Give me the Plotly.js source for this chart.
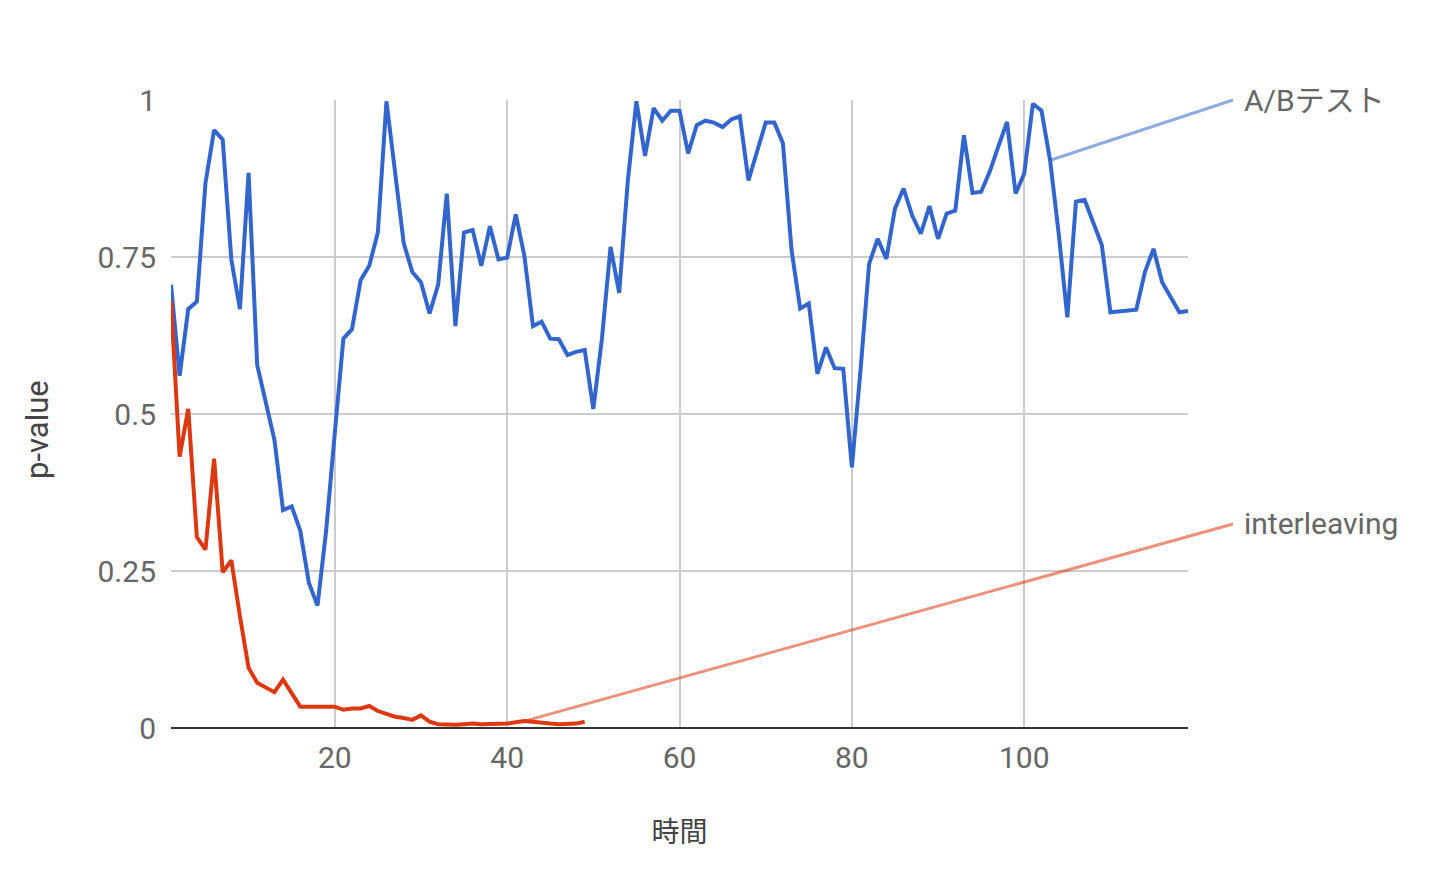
<!DOCTYPE html>
<html>
<head>
<meta charset="utf-8">
<script src="https://cdn.plot.ly/plotly-3.0.1.min.js"></script>
<style>html,body{margin:0;padding:0;background:#fff;}#chart{width:1440px;height:870px;}</style>
</head>
<body>
<div id="chart"></div>
<script>
const time = [1,2,3,4,5,6,7,8,9,10,11,12,13,14,15,16,17,18,19,20,
  21,22,23,24,25,26,27,28,29,30,31,32,33,34,35,36,37,38,39,40,
  41,42,43,44,45,46,47,48,49,50,51,52,53,54,55,56,57,58,59,60,
  61,62,63,64,65,66,67,68,69,70,71,72,73,74,75,76,77,78,79,80,
  81,82,83,84,85,86,87,88,89,90,91,92,93,94,95,96,97,98,99,100,
  101,102,103,104,105,106,107,108,109,110,111,112,113,114,115,116,117,118,119];

const abTest = [0.706,0.561,0.667,0.679,0.868,0.952,0.937,0.746,0.667,0.884,
  0.578,0.515,0.459,0.347,0.353,0.314,0.231,0.195,0.314,0.469,
  0.620,0.635,0.713,0.736,0.789,0.998,0.884,0.772,0.726,0.710,
  0.660,0.706,0.851,0.640,0.789,0.793,0.736,0.799,0.746,0.749,
  0.818,0.752,0.640,0.647,0.620,0.619,0.594,0.599,0.602,0.508,
  0.620,0.766,0.693,0.871,0.998,0.911,0.987,0.967,0.983,0.983,
  0.915,0.960,0.967,0.964,0.957,0.969,0.974,0.872,0.918,0.964,
  0.964,0.931,0.761,0.668,0.676,0.564,0.606,0.573,0.572,0.415,
  0.569,0.739,0.779,0.747,0.827,0.859,0.816,0.787,0.831,0.779,
  0.819,0.824,0.944,0.852,0.854,0.886,0.926,0.965,0.851,0.883,
  0.994,0.983,0.904,0.787,0.654,0.838,0.841,0.803,0.769,0.662,
  0.663,0.665,0.666,0.726,0.763,0.710,0.686,0.662,0.664];

const interleaving = [0.680,0.432,0.508,0.304,0.284,0.429,0.248,0.267,0.178,0.096,
  0.072,0.064,0.057,0.077,0.056,0.034,0.034,0.034,0.034,0.034,
  0.029,0.031,0.031,0.035,0.027,0.023,0.018,0.016,0.013,0.020,
  0.010,0.006,0.005,0.005,0.006,0.007,0.006,0.006,0.007,0.007,
  0.009,0.011,0.010,0.008,0.007,0.006,0.006,0.007,0.010];

const seriesNames = ['A/Bテスト', 'interleaving'];
const xTicks = [20, 40, 60, 80, 100];
const yTicks = [0, 0.25, 0.5, 0.75, 1];
const xTitle = '時間';
const yTitle = 'p-value';

const FONT = 'Roboto, "Noto Sans CJK JP", sans-serif';
const BLUE = '#3366cc', RED = '#dc3912';
const W = 1440, H = 870, L = 171, R = 252, T = 100, B = 142;
const PW = W - L - R, PH = H - T - B;
const xRange = [1, 119], yRange = [0, 1];
const px = x => L + (x - xRange[0]) / (xRange[1] - xRange[0]) * PW;
const py = y => T + (1 - (y - yRange[0]) / (yRange[1] - yRange[0])) * PH;

const interX = time.slice(0, interleaving.length);

// leader-line anchors (index on series) and label positions (pixels)
const abIdx = 102, inIdx = 41;
const labelX = 1233;
const abLabelY = 100, inLabelY = 524;

const traces = [
  {x: time, y: abTest, name: seriesNames[0], type: 'scatter', mode: 'lines',
   line: {color: BLUE, width: 4}, hoverinfo: 'x+y'},
  {x: interX, y: interleaving, name: seriesNames[1], type: 'scatter', mode: 'lines',
   line: {color: RED, width: 4}, hoverinfo: 'x+y'}
];

function leader(x, y, text, color, ly) {
  return {
    x: x, y: y, xref: 'x', yref: 'y', text: text, showarrow: true,
    arrowhead: 0, arrowwidth: 3, arrowcolor: color, standoff: 0, startstandoff: 0,
    ax: labelX - px(x), ay: ly - py(y), axref: 'pixel', ayref: 'pixel',
    xanchor: 'left', yanchor: 'middle', borderpad: 10,
    font: {family: FONT, size: 30, color: '#666666'}
  };
}

const layout = {
  width: W, height: H,
  margin: {l: L, r: R, t: T, b: B},
  paper_bgcolor: '#ffffff', plot_bgcolor: '#ffffff',
  showlegend: false,
  font: {family: FONT, size: 30, color: '#666666'},
  xaxis: {
    range: xRange, tickmode: 'array', tickvals: xTicks, ticktext: xTicks.map(String),
    showgrid: true, gridcolor: '#cccccc', gridwidth: 2, zeroline: false, showline: false,
    ticks: '', ticklabelstandoff: 9,
    tickfont: {family: FONT, size: 30, color: '#666666'},
    title: {text: xTitle, font: {family: FONT, size: 28, color: '#444444'}, standoff: 48}
  },
  yaxis: {
    range: yRange, tickmode: 'array', tickvals: yTicks, ticktext: yTicks.map(String),
    showgrid: true, gridcolor: '#cccccc', gridwidth: 2,
    zeroline: true, zerolinecolor: '#333333', zerolinewidth: 2,
    showline: false, ticks: '', ticklabelstandoff: 14,
    tickfont: {family: FONT, size: 30, color: '#666666'},
    title: {text: ''}
  },
  annotations: [
    leader(time[abIdx], abTest[abIdx], seriesNames[0], 'rgba(51,102,204,0.55)', abLabelY),
    leader(interX[inIdx], interleaving[inIdx], seriesNames[1], 'rgba(220,57,18,0.55)', inLabelY),
    {text: yTitle, xref: 'paper', yref: 'paper', x: (37 - L) / PW, y: (T + PH - 430) / PH,
     xanchor: 'center', yanchor: 'middle', showarrow: false, textangle: -90,
     font: {family: FONT, size: 31, color: '#444444'}}
  ]
};

Plotly.newPlot('chart', traces, layout, {displayModeBar: false, staticPlot: true});
</script>
</body>
</html>
